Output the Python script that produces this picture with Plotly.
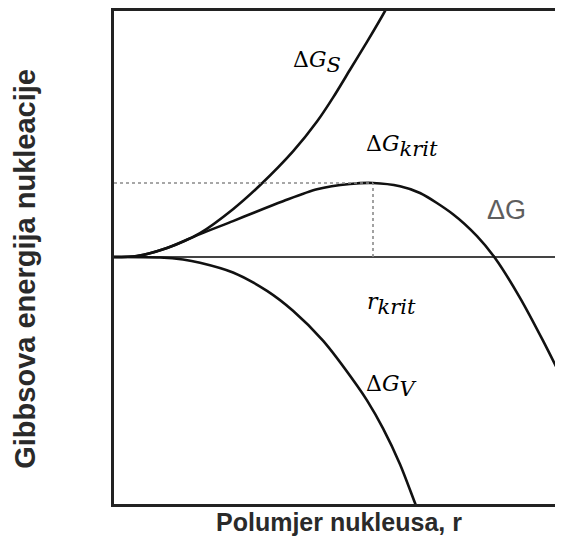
import plotly.graph_objects as go

# nucleus radius r (arbitrary units) and the three energy curves
r_surface = [0.0, 0.23, 0.53, 0.86, 1.19, 1.46, 1.79, 2.03, 2.19, 2.36, 2.53, 2.71, 2.81]
g_surface = [0.0, 0.01, 0.09, 0.24, 0.48, 0.72, 1.06, 1.36, 1.60, 1.88, 2.16, 2.47, 2.66]

r_total = [0.0, 0.23, 0.53, 0.86, 1.19, 1.41, 1.69, 2.03, 2.36, 2.59, 2.86, 3.06,
           3.39, 3.63, 3.81, 4.06, 4.29, 4.49, 4.66]
g_total = [0.0, 0.01, 0.09, 0.23, 0.36, 0.45, 0.56, 0.68, 0.733, 0.743, 0.71, 0.643,
           0.43, 0.21, -0.01, -0.41, -0.84, -1.24, -1.59]

r_volume = [0.0, 0.46, 0.69, 0.86, 1.19, 1.53, 1.79, 2.09, 2.43, 2.53, 2.69, 2.86, 3.01, 3.08]
g_volume = [0.0, -0.005, -0.025, -0.057, -0.155, -0.34, -0.54, -0.84, -1.29, -1.44,
            -1.72, -2.08, -2.47, -2.65]

r_crit = 2.59
g_crit = 0.743

X_RANGE = [0, 4.41]
Y_RANGE = [-2.48, 2.47]

curve = dict(color="#111111", width=2.6, shape="spline", smoothing=0.8)
guide = dict(color="#8a8a8a", width=1.6, dash="3px,3px")

fig = go.Figure()
fig.add_trace(go.Scatter(x=r_surface, y=g_surface, mode="lines", line=curve))
fig.add_trace(go.Scatter(x=r_total, y=g_total, mode="lines", line=curve))
fig.add_trace(go.Scatter(x=r_volume, y=g_volume, mode="lines", line=curve))
fig.add_trace(go.Scatter(x=[0, r_crit], y=[g_crit, g_crit], mode="lines", line=guide))
fig.add_trace(go.Scatter(x=[r_crit, r_crit], y=[0, g_crit], mode="lines", line=guide))


def sub(text):
    return "<sub><span style='font-size:21px'><i>%s</i></span></sub>" % text


math_font = dict(family="DejaVu Serif", size=22, color="#000000")
labels = [
    (2.03, 1.96, "Δ<i>G</i>" + sub("S")),
    (2.88, 1.11, "Δ<i>G</i>" + sub("krit")),
    (2.77, -0.47, "<i>r</i>" + sub("krit")),
    (2.77, -1.30, "Δ<i>G</i>" + sub("V")),
]
for x, y, text in labels:
    fig.add_annotation(x=x, y=y, text=text, showarrow=False, font=math_font)

fig.add_annotation(x=3.92, y=0.47, text="ΔG", showarrow=False,
                   font=dict(family="Liberation Sans", size=27, color="#5e5e5e"))

axis_title_font = dict(family="Liberation Sans", size=25, color="#2a2a2a")
fig.add_annotation(xref="paper", yref="paper", x=0.511, y=-0.036,
                   xanchor="center", yanchor="middle",
                   text="<b>Polumjer nukleusa, r</b>", showarrow=False,
                   font=axis_title_font)
fig.add_annotation(xref="paper", yref="paper", x=-0.202, y=0.477,
                   xanchor="center", yanchor="middle",
                   text="<b>Gibbsova energija nukleacije</b>", showarrow=False,
                   textangle=-90, font=dict(axis_title_font, size=29))

fig.update_xaxes(range=X_RANGE, showline=True, mirror=True, linecolor="#222222",
                 linewidth=2.6, showgrid=False, zeroline=False, showticklabels=False,
                 ticks="")
fig.update_yaxes(range=Y_RANGE, showline=True, linecolor="#222222", linewidth=2.6,
                 showgrid=False, zeroline=True, zerolinecolor="#444444",
                 zerolinewidth=1.6, showticklabels=False, ticks="")
# the page body adds an 8px margin, so the figure is sized to fit inside it
fig.update_layout(
    width=547,
    height=529,
    margin=dict(l=106, r=0, t=1, b=33),
    paper_bgcolor="white",
    plot_bgcolor="white",
    showlegend=False,
)

fig.write_html("out.html")
